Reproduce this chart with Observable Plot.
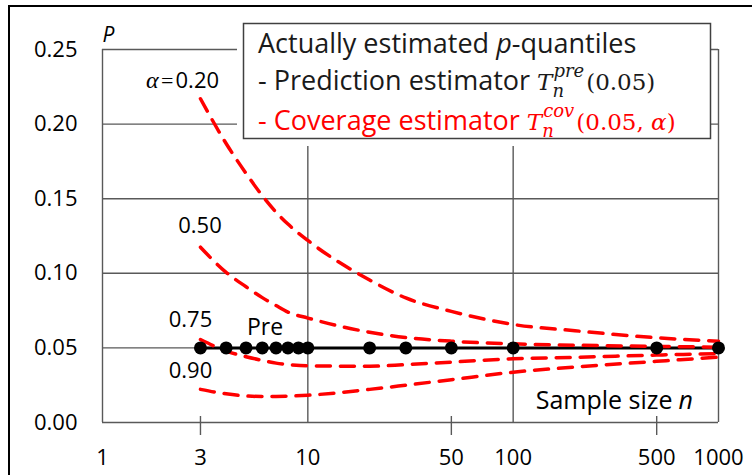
<!DOCTYPE html>
<html><head><meta charset="utf-8">
<script src="https://cdn.jsdelivr.net/npm/d3@7"></script>
<script src="https://cdn.jsdelivr.net/npm/@observablehq/plot@0.6"></script>
<style>
body{margin:0;background:#fff;}
#wrap{position:relative;width:752px;height:475px;overflow:hidden;}
#frame{position:absolute;left:8px;top:5px;width:800px;height:600px;border-left:2px solid #000;border-top:2px solid #000;pointer-events:none;}
#wrap svg{position:absolute;left:0;top:0;}
</style></head><body><div id="wrap"><div id="frame"></div></div>
<script>
// ---- data ----
const sampleSizes = [3, 4, 5, 6, 7, 8, 10, 20, 30, 50, 100, 200, 500, 1000];
const alphas = ["0.20", "0.50", "0.75", "0.90"];
const cov020 = [0.217, 0.187, 0.167, 0.152, 0.141, 0.133, 0.122, 0.0955, 0.0835, 0.0745, 0.0657, 0.0615, 0.0568, 0.0545];
const cov050 = [0.1175, 0.1006, 0.091, 0.0837, 0.0784, 0.074, 0.070, 0.0605, 0.057, 0.0545, 0.0527, 0.0518, 0.051, 0.0505];
const cov075 = [0.0556, 0.0479, 0.0441, 0.0416, 0.0398, 0.0389, 0.038, 0.0377, 0.0388, 0.0405, 0.0427, 0.0437, 0.0452, 0.0462];
const cov090 = [0.0222, 0.0192, 0.0178, 0.0174, 0.0175, 0.0177, 0.0183, 0.0222, 0.025, 0.0287, 0.0337, 0.0372, 0.041, 0.0438];
const preN = [3, 4, 5, 6, 7, 8, 9, 10, 20, 30, 50, 100, 500, 1000];
const preP = [0.05, 0.05, 0.05, 0.05, 0.05, 0.05, 0.05, 0.05, 0.05, 0.05, 0.05, 0.05, 0.05, 0.05];
const yTicks = [0, 0.05, 0.10, 0.15, 0.20, 0.25];
const xTickLabels = [1, 3, 10, 50, 100, 500, 1000];
const xGrid = [1, 10, 100, 1000];
const xMinorTicks = [3, 50, 500];
// label anchors (n, P)
const alphaLabels = [
  {n: 2.243, p: 0.2292, t: "0.20"},
  {n: 2.985, p: 0.1317, t: "0.50", mid: true},
  {n: 2.683, p: 0.0687, t: "0.75", mid: true},
  {n: 2.683, p: 0.0345, t: "0.90", mid: true}
];
const preLabel = [{n: 6.19, p: 0.0633, t: "Pre"}];
const xLabel = [{n: 639, p: 0.0141}];
const yLabel = [{n: 1, p: 0.2594}];

const covSeries = [cov020, cov050, cov075, cov090];
const covData = alphas.flatMap((a, k) => sampleSizes.map((n, i) => ({n, p: covSeries[k][i], a})));
const preData = preN.map((n, i) => ({n, p: preP[i]}));

const SANS = "'Open Sans', sans-serif";
const SERIF = "'Liberation Serif', serif";
const MATH = "'DejaVu Serif', serif";
const GRID = "#595959";

const plot = Plot.plot({
  width: 752, height: 475,
  marginLeft: 102, marginRight: 34, marginTop: 49, marginBottom: 53,
  style: {fontFamily: SANS, fontSize: "22px", color: "#000", background: "transparent", overflow: "visible"},
  x: {type: "log", domain: [1, 1000], label: null, axis: null},
  y: {domain: [0, 0.25], label: null, axis: null},
  marks: [
    Plot.ruleY(yTicks, {stroke: GRID, strokeWidth: 1.4}),
    Plot.ruleX(xGrid, {y1: 0, y2: 0.25, stroke: GRID, strokeWidth: 1.4}),
    Plot.axisY({ticks: yTicks, tickFormat: d3.format(".2f"), tickSize: 0, tickPadding: 25, fontSize: 22, label: null}),
    Plot.ruleX(xMinorTicks, {stroke: GRID, strokeWidth: 1.4, insetTop: 367, insetBottom: -13}),
    Plot.text(xTickLabels, {x: d => d, text: d => String(d), frameAnchor: "bottom", dy: 35, lineAnchor: "middle", fontSize: 22}),
    Plot.line(preData, {x: "n", y: "p", stroke: "#000", strokeWidth: 3}),
    Plot.line(covData, {x: "n", y: "p", z: "a", stroke: "#ff0000", strokeWidth: 3.5, strokeDasharray: "14,10", curve: "monotone-x"}),
    Plot.dot(preData, {x: "n", y: "p", r: 6.5, fill: "#000"}),
    Plot.text(alphaLabels.filter(d => !d.mid), {x: "n", y: "p", text: "t", textAnchor: "start", dx: 1, fontSize: 22}),
    Plot.text(alphaLabels.filter(d => d.mid), {x: "n", y: "p", text: "t", textAnchor: "middle", fontSize: 22}),
    Plot.text(alphaLabels.filter(d => !d.mid), {x: "n", y: "p", text: () => "=", textAnchor: "end", dx: -1, fontFamily: SERIF, fontSize: 22}),
    Plot.text(alphaLabels.filter(d => !d.mid), {x: "n", y: "p", text: () => "α", textAnchor: "end", dx: -16, fontFamily: SERIF, fontStyle: "italic", fontSize: 24}),
    Plot.text(preLabel, {x: "n", y: "p", text: "t", textAnchor: "middle", fontSize: 23}),
    Plot.text(xLabel, {x: "n", y: "p", text: () => "Sample size", textAnchor: "end", dx: -6, fontSize: 25}),
    Plot.text(xLabel, {x: "n", y: "p", text: () => "n", textAnchor: "start", fontStyle: "italic", fontSize: 25}),
    Plot.text(yLabel, {x: "n", y: "p", text: () => "P", textAnchor: "start", fontStyle: "italic", fontSize: 21})
  ]
});
document.getElementById("wrap").appendChild(plot);

// ---- legend box ----
const lg = d3.select(plot).append("g").attr("text-anchor", "start");
lg.append("rect").attr("x", 237).attr("y", 14).attr("width", 474).attr("height", 132).attr("fill", "#fff");
lg.append("rect").attr("x", 243.5).attr("y", 23.5).attr("width", 467).attr("height", 115)
  .attr("fill", "none").attr("stroke", "#404040").attr("stroke-width", 1.5);

function piece(x, y, t, font, size, italic, color) {
  const el = lg.append("text").attr("x", x).attr("y", y).attr("fill", color)
    .attr("text-anchor", "start")
    .style("font-family", font).style("font-size", size + "px")
    .style("font-style", italic ? "italic" : "normal").text(t);
  return el.node().getComputedTextLength();
}
function richLine(x, y, color, parts) {
  let cx = x;
  for (const p of parts) {
    if (p.sup !== undefined) {
      const w1 = piece(cx + 1, y + p.supDy, p.sup, MATH, 18, true, color);
      const w2 = piece(cx, y + 7, p.sub, MATH, 18, true, color);
      cx += Math.max(w1 + 1, w2) + 2;
    } else {
      cx += piece(cx, y, p.t, p.font || SANS, p.size || 27, p.italic, color);
    }
  }
}
richLine(258, 53, "#1a1a1a", [
  {t: "Actually estimated "}, {t: "p", italic: true}, {t: "-quantiles"}
]);
richLine(258, 90, "#1a1a1a", [
  {t: "- Prediction estimator "}, {t: "T", font: MATH, size: 23, italic: true},
  {sup: "pre", sub: "n", supDy: -13}, {t: "(0.05)", font: MATH, size: 23}
]);
richLine(258, 129.5, "#ff0000", [
  {t: "- Coverage estimator "}, {t: "T", font: MATH, size: 23, italic: true},
  {sup: "cov", sub: "n", supDy: -13}, {t: "(0.05, ", font: MATH, size: 23},
  {t: "α", font: MATH, size: 23, italic: true}, {t: ")", font: MATH, size: 23}
]);
</script></body></html>
